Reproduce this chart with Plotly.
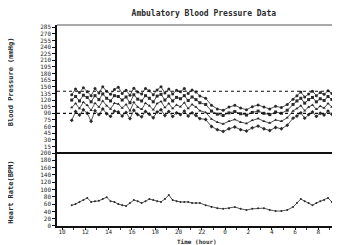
import plotly.graph_objects as go

# ---------------- data ----------------
TIMES = [
    "10:50", "11:10", "11:30", "11:50", "12:10", "12:30", "12:50", "13:10", "13:30", "13:50",
    "14:10", "14:30", "14:50", "15:10", "15:30", "15:50", "16:10", "16:30", "16:50", "17:10",
    "17:30", "17:50", "18:10", "18:30", "18:50", "19:10", "19:30", "19:50", "20:10", "20:30",
    "20:50", "21:10", "21:30", "21:50",
    "22:20", "22:50", "23:20", "23:50", "0:20", "0:50", "1:20", "1:50", "2:20", "2:50",
    "3:20", "3:50", "4:20", "4:50", "5:20", "5:50",
    "6:10", "6:30", "6:50", "7:10", "7:30", "7:50", "8:10", "8:30", "8:50", "9:10", "9:30", "9:50",
]

SYSTOLIC = [
    132, 145, 137, 148, 139, 130, 146, 136, 150, 140, 133, 144, 149, 135, 142, 131, 147, 138, 134, 146,
    141, 132, 143, 150, 136, 145, 134, 142, 139, 146, 135, 143, 138, 129,
    124, 108, 100, 97, 104, 108, 102, 98, 105, 109, 104, 100, 106, 103, 110, 122,
    130, 138, 127, 134, 140, 130, 137, 133, 141, 135, 128, 134,
]
UPPER_MID = [
    120, 128, 118, 131, 126, 116, 130, 121, 134, 124, 118, 130, 128, 120, 127, 114, 132, 122, 118, 130,
    124, 116, 129, 133, 120, 129, 118, 126, 123, 130, 119, 127, 121, 114,
    110, 95, 88, 85, 91, 94, 89, 86, 92, 95, 90, 87, 93, 90, 97, 110,
    118, 124, 113, 121, 126, 116, 123, 119, 128, 121, 114, 120,
]
LOWER_MID = [
    103, 112, 101, 115, 108, 97, 113, 104, 118, 107, 100, 113, 111, 102, 110, 96, 115, 104, 99, 113,
    107, 98, 112, 117, 103, 112, 101, 109, 105, 114, 101, 110, 104, 96,
    92, 77, 70, 66, 72, 76, 70, 67, 74, 78, 72, 68, 75, 72, 80, 95,
    101, 107, 96, 104, 109, 99, 106, 102, 112, 104, 97, 103,
]
DIASTOLIC = [
    74, 94, 86, 98, 90, 72, 96, 87, 100, 89, 83, 95, 93, 84, 92, 78, 97, 87, 82, 94,
    88, 80, 93, 98, 85, 94, 83, 91, 87, 95, 84, 91, 85, 78,
    76, 60, 53, 49, 55, 59, 53, 50, 57, 61, 55, 51, 58, 55, 63, 79,
    84, 91, 79, 87, 93, 83, 90, 86, 95, 88, 81, 87,
]
HEART_RATE = [
    57, 60, 66, 71, 77, 66, 68, 69, 74, 79, 68, 66, 60, 57, 55, 63, 71, 68, 63, 68,
    74, 71, 68, 66, 74, 85, 71, 68, 66, 66, 66, 63, 63, 63,
    57, 52, 49, 47, 49, 52, 47, 44, 47, 49, 49, 44, 41, 41, 44, 52,
    63, 74, 68, 63, 57, 63, 68, 71, 77, 66, 68, 71,
]

X_TICK_VALS = [10, 12, 14, 16, 18, 20, 22, 24, 26, 28, 30, 32]
X_TICK_TEXT = ["10", "12", "14", "16", "18", "20", "22", "0", "2", "4", "6", "8"]
BP_TICKS = [15, 30, 45, 60, 75, 90, 105, 120, 135, 150, 165, 180, 195, 210, 225, 240, 255, 270, 285]
HR_TICKS = [0, 20, 40, 60, 80, 100, 120, 140, 160, 180, 200]
BP_LIMITS = [140, 90]


def to_hour(t):
    h, m = (int(v) for v in t.split(":"))
    if h < 10:
        h += 24
    return h + m / 60.0


hours = [to_hour(t) for t in TIMES]

FONT = "DejaVu Sans Mono"
INK = "#2a2a2a"

fig = go.Figure()

bp_series = [
    (SYSTOLIC, "circle"),
    (UPPER_MID, "square"),
    (LOWER_MID, "triangle-up"),
    (DIASTOLIC, "diamond"),
]
for vals, sym in bp_series:
    fig.add_trace(go.Scatter(
        x=hours, y=vals, mode="lines+markers", xaxis="x", yaxis="y",
        line=dict(color=INK, width=0.8),
        marker=dict(symbol=sym, size=3, color=INK),
        showlegend=False,
    ))

fig.add_trace(go.Scatter(
    x=hours, y=HEART_RATE, mode="lines+markers", xaxis="x", yaxis="y2",
    line=dict(color=INK, width=0.8),
    marker=dict(symbol="circle", size=2, color=INK),
    showlegend=False,
))

# dotted threshold lines
for v in BP_LIMITS:
    fig.add_shape(type="line", xref="paper", x0=0, x1=1, yref="y", y0=v, y1=v,
                  line=dict(color="#111", width=1.2, dash="dot"))

# heavy separator between panels
fig.add_shape(type="line", xref="paper", x0=0, x1=1, yref="paper", y0=0.363, y1=0.363,
              line=dict(color="#111", width=2))
# top border
fig.add_shape(type="line", xref="paper", x0=0, x1=1, yref="paper", y0=1, y1=1,
              line=dict(color="#555", width=1.2))

fig.update_layout(
    width=340, height=245,
    margin=dict(l=49, r=8, t=17, b=27),
    paper_bgcolor="white", plot_bgcolor="white",
    font=dict(family=FONT, size=6, color=INK),
    title=dict(text="<b>Ambulatory Blood Pressure Data</b>", x=0.576, xanchor="center",
               y=0.98, yanchor="middle", font=dict(family=FONT, size=8, color=INK)),
    xaxis=dict(
        range=[9.571, 33.863], tickvals=X_TICK_VALS, ticktext=X_TICK_TEXT,
        showgrid=False, zeroline=False, showline=True, linecolor="#111", linewidth=1.5,
        ticks="outside", ticklen=2, tickcolor="#111", ticklabelstandoff=-3,
        minor=dict(ticks="outside", ticklen=2, dtick=1, tickcolor="#333"),
        tickfont=dict(family=FONT, size=6, color=INK),
        anchor="y2",
    ),
    yaxis=dict(
        domain=[0.363, 1], range=[0, 290], tickvals=BP_TICKS,
        showgrid=False, zeroline=False, showline=True, linecolor="#111", linewidth=1.5,
        ticks="outside", ticklen=3, tickcolor="#111",
        tickfont=dict(family=FONT, size=6, color=INK),
    ),
    yaxis2=dict(
        domain=[0, 0.363], range=[0, 200], tickvals=HR_TICKS,
        showgrid=False, zeroline=False, showline=True, linecolor="#111", linewidth=1.5,
        ticks="outside", ticklen=3, tickcolor="#111",
        tickfont=dict(family=FONT, size=6, color=INK),
    ),
    annotations=[
        dict(text="<b>Blood Pressure (mmHg)</b>", xref="paper", yref="paper", x=-0.163, y=0.72,
             textangle=-90, showarrow=False, xanchor="center", yanchor="middle",
             font=dict(family=FONT, size=7, color=INK)),
        dict(text="<b>Heart Rate(BPM)</b>", xref="paper", yref="paper", x=-0.163, y=0.17,
             textangle=-90, showarrow=False, xanchor="center", yanchor="middle",
             font=dict(family=FONT, size=7, color=INK)),
        dict(text="<b>Time (hour)</b>", xref="paper", yref="paper", x=0.495, y=-0.075,
             showarrow=False, xanchor="center", yanchor="middle",
             font=dict(family=FONT, size=6, color=INK)),
    ],
)

fig.write_html("out.html")
